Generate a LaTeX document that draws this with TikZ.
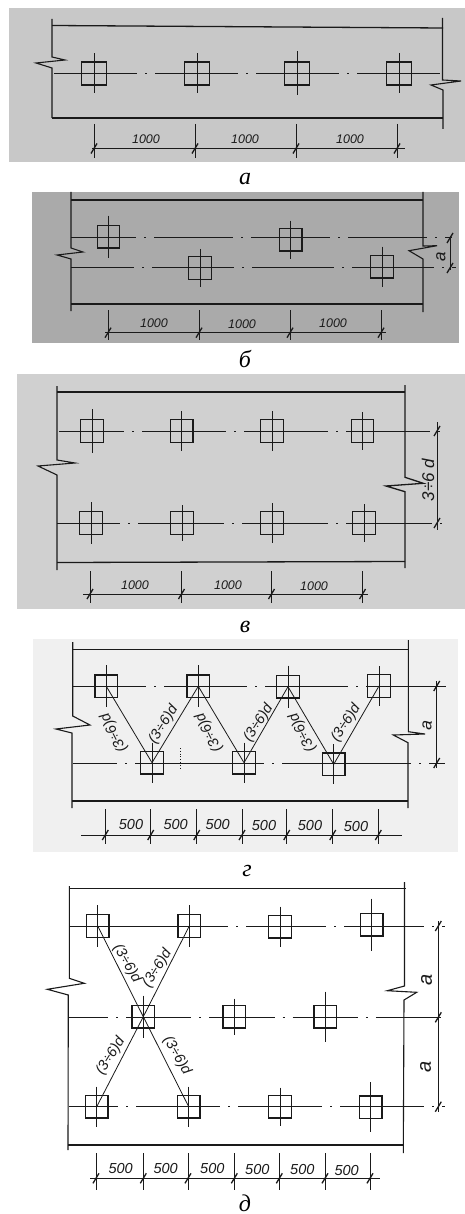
\documentclass[tikz,border=0pt]{standalone}
\usepackage{fontspec}
\setmainfont{Liberation Serif}
\newfontfamily\handfont{Liberation Sans}
\definecolor{ink}{HTML}{1A1A1A}
\definecolor{bga}{HTML}{C8C8C8}
\definecolor{bgb}{HTML}{AAAAAA}
\definecolor{bgc}{HTML}{D0D0D0}
\definecolor{bgd}{HTML}{F0F0F0}
\tikzset{
  plate/.style={draw=ink,line width=1.1pt},
  edgeline/.style={draw=ink,line width=1.3pt},
  axisline/.style={draw=ink,line width=.9pt},
  thinline/.style={draw=ink,line width=.8pt},
  tickline/.style={draw=ink,line width=1.3pt},
  pile/.style={draw=ink,line width=1.4pt,rectangle,minimum size=22.5pt,inner sep=0pt,fill=none},
  hand/.style={font=\handfont\itshape\fontsize{12.5}{14}\selectfont,text=ink,inner sep=0pt},
  handb/.style={font=\handfont\itshape\fontsize{14.5}{16}\selectfont,text=ink,inner sep=0pt},
  handc/.style={font=\handfont\itshape\fontsize{17}{19}\selectfont,text=ink,inner sep=0pt},
  handd/.style={font=\handfont\itshape\fontsize{20}{22}\selectfont,text=ink,inner sep=0pt},
  caption/.style={font=\itshape\fontsize{24}{26}\selectfont,text=black,inner sep=0pt},
}
% centre line with dot-gaps: y, x0, x1, first dot x, period
\newcommand\cenl[5]{%
  \pgfmathsetmacro\clL{#5-18}%
  \pgfmathsetmacro\clP{mod(#5-9-(#4-#2)+10*#5,#5)}%
  \draw[axisline,dash pattern=on \clL pt off 8pt on 2pt off 8pt,dash phase=\clP pt] (#2,#1)--(#3,#1);}
% pile: name, x, y, half-length of the cross
\newcommand\pilenode[4]{%
  \draw[axisline] (#2,#3-#4)--(#2,#3+#4);
  \node[pile] (#1) at (#2,#3) {};}
% horizontal dimension: y, x0, x1, ext top, ext bottom, list
\newcommand\dimh[6]{%
  \draw[thinline] (#2,#1)--(#3,#1);
  \foreach \dx in {#6}{%
    \draw[thinline] (\dx,#4)--(\dx,#5);
    \draw[tickline] (\dx-3,#1+5)--(\dx+3,#1-5);}}
% vertical dimension: x, y0, y1, list
\newcommand\dimv[4]{%
  \draw[thinline] (#1,#2)--(#1,#3);
  \foreach \dy in {#4}{\draw[tickline] (#1-3,\dy+5)--(#1+3,\dy-5);}}
\begin{document}
\begin{tikzpicture}[x=1pt,y=-1pt]
\useasboundingbox (0,0) rectangle (465,1214);
\fill[white] (0,0) rectangle (465,1214);
% ---------- a
\fill[bga] (9,8) rectangle (465,162);
\draw[edgeline] (52,25.5)--(443,28);
\draw[edgeline] (52,118)--(443,118);
\draw[plate] (52,19)--(52,57)--(65,60)--(36,63)--(52,68)--(52,118);
\draw[plate] (442.5,18)--(442.5,80)--(461,81)--(431,85)--(443,90)--(443,129);
\cenl{73.5}{52}{443}{146}{101}
\begin{scope}[pile/.append style={minimum width=25pt,minimum height=23pt}]
\pilenode{a1}{94}{73.5}{20}
\pilenode{a2}{197}{73.5}{20}
\pilenode{a3}{297}{73.5}{22}
\pilenode{a4}{399}{73.5}{20}
\end{scope}
\dimh{148.5}{92}{405}{124}{158}{94,195,296,397}
\node[hand] (la1) at (146,139) {1000};
\node[hand] (la2) at (245,139) {1000};
\node[hand] (la3) at (350,139) {1000};
\node[caption] (ca) at (245,179) {а};
% ---------- b
\fill[bgb] (32,192) rectangle (459,343);
\draw[edgeline] (71,200)--(423,200);
\draw[edgeline] (71,304)--(423,304);
\draw[plate] (71,192)--(71,248)--(83,252)--(57,255)--(71,259)--(71,311);
\draw[plate] (423,192)--(423,246)--(437,245.7)--(409,250.7)--(423,259)--(423,312);
\cenl{237.7}{71}{452}{145}{97}
\cenl{267.7}{71}{456}{143}{100}
\pilenode{b1}{108.5}{236.7}{21}
\pilenode{b2}{200}{268}{19}
\pilenode{b3}{290.7}{239.7}{19}
\pilenode{b4}{382}{266.7}{20}
\dimh{332.7}{105}{386}{310}{340}{108,199,290,381}
\dimv{450}{236}{270}{238,268}
\node[hand] (lb1) at (154,323) {1000};
\node[hand] (lb2) at (242,324) {1000};
\node[hand] (lb3) at (333,323) {1000};
\node[handc,rotate=90] (lb4) at (441,256.5) {a};
\node[caption] (cb) at (245,359) {б};
% ---------- v
\fill[bgc] (17,374) rectangle (465,609);
\draw[edgeline] (57,392)--(405,392);
\draw[edgeline] (57,562.5)--(405,561.5);
\draw[plate] (57,386)--(57,460)--(75,463)--(38,466)--(57,475)--(57,570);
\draw[edgeline] (405,385)--(405,477.3)--(423.3,483.3)--(386,486)--(405,491.7)--(405,568);
\cenl{431}{59}{443}{133}{102}
\cenl{523}{57}{443}{129}{104}
\pilenode{v1}{92}{431}{22}
\pilenode{v2}{181.7}{431}{20}
\pilenode{v3}{272}{431}{20}
\pilenode{v4}{362.5}{431}{19}
\pilenode{v5}{91}{523}{21}
\pilenode{v6}{182}{523}{18}
\pilenode{v7}{272}{523}{20}
\pilenode{v8}{364}{523}{19}
\dimh{594}{83}{368}{571}{603}{90,181.5,271.5,362.5}
\dimv{437}{422}{530}{431,523}
\node[hand] (lv1) at (135,585) {1000};
\node[hand] (lv2) at (228,585) {1000};
\node[hand] (lv3) at (314,586) {1000};
\node[handc,rotate=90] (lv4) at (428,480) {3÷6 d};
\node[caption] (cv) at (245,627) {в};
% ---------- g
\fill[bgd] (33,639) rectangle (458,852);
\draw[edgeline] (73,649.3)--(408,649.3);
\draw[edgeline] (72,801)--(408,801);
\draw[plate] (72.7,642)--(72.7,716)--(90,725)--(56,729)--(72,733)--(72,808);
\draw[plate] (408.3,640)--(408.3,731.7)--(425,734)--(393.3,735)--(408,742.7)--(408,808);
\cenl{686}{73}{446}{155}{101}
\cenl{763}{73}{445}{126}{147}
\draw[thinline,dotted] (180,748)--(180,768);
\pilenode{g1}{106.3}{686.3}{21}
\pilenode{g2}{198.3}{686.3}{21}
\pilenode{g3}{288}{686.7}{21}
\pilenode{g4}{379}{686}{20}
\pilenode{g5}{152}{762.7}{20}
\pilenode{g6}{244}{762.7}{20}
\pilenode{g7}{333.7}{764.3}{20}
\draw[thinline] (g1.center)--(g5.center)--(g2.center)--(g6.center)--(g3.center)--(g7.center)--(g4.center);
\dimh{835}{81}{402}{809}{844}{105.3,150.7,196.7,242,286.7,332.7,378.3}
\dimv{436.7}{681}{768}{686,763}
\node[handb] (lg1) at (131,824.3) {500};
\node[handb] (lg2) at (175.7,825) {500};
\node[handb] (lg3) at (217.7,825) {500};
\node[handb] (lg4) at (264,825.7) {500};
\node[handb] (lg5) at (310,825.7) {500};
\node[handb] (lg6) at (356,826) {500};
\node[handc,rotate=85] (lg7) at (427,725) {a};
\node[handb,rotate=117] (dg1) at (114,732.7) {(3÷6)d};
\node[handb,rotate=57] (dg2) at (163.5,724.5) {(3÷6)d};
\node[handb,rotate=117] (dg3) at (209,732.3) {(3÷6)d};
\node[handb,rotate=57] (dg4) at (258.5,723) {(3÷6)d};
\node[handb,rotate=117] (dg5) at (302.5,732.3) {(3÷6)d};
\node[handb,rotate=57] (dg6) at (346,723) {(3÷6)d};
\node[caption] (cg) at (247,871) {г};
% ---------- d
\draw[edgeline] (69,888.3)--(406,888.3);
\draw[edgeline] (68,1145)--(403,1145);
\draw[plate] (69.3,886)--(69.3,978.3)--(84.3,983.3)--(47.3,989.3)--(68.3,995)--(68,1150);
\draw[plate] (404.5,882)--(404.5,986)--(387.3,990.7)--(416.7,992.3)--(404,1000)--(403.3,1153);
\draw[axisline] (69,926)--(200,926);
\cenl{926}{200}{445}{237}{98}
\cenl{1017.3}{69}{446}{117}{83.3}
\cenl{1106.7}{69}{445}{127}{102}
\pilenode{d1}{97.7}{926}{21}
\pilenode{d2}{189.3}{926}{21}
\pilenode{d3}{280}{926.7}{20}
\pilenode{d4}{371.7}{924.7}{26}
\pilenode{d5}{143.3}{1016.7}{21}
\pilenode{d6}{234.3}{1016.7}{18}
\pilenode{d7}{325.3}{1016.7}{25}
\pilenode{d8}{96.7}{1106.7}{20}
\pilenode{d9}{188.7}{1106.7}{20}
\pilenode{d10}{280}{1106.7}{19}
\pilenode{d11}{370.7}{1107.3}{25}
\draw[thinline] (d1.center)--(d5.center)--(d9.center);
\draw[thinline] (d2.center)--(d5.center)--(d8.center);
\dimh{1178.3}{90}{380}{1153}{1190}{96,143.3,188,234.3,279.3,325,370}
\dimv{438.3}{921}{1112}{926,1017.3,1106.7}
\node[handb] (ld1) at (120.7,1168.7) {500};
\node[handb] (ld2) at (165.7,1168.3) {500};
\node[handb] (ld3) at (212.3,1168.7) {500};
\node[handb] (ld4) at (257.3,1169.3) {500};
\node[handb] (ld5) at (302.3,1169.3) {500};
\node[handb] (ld6) at (346.7,1170.7) {500};
\node[handd,rotate=90] (ld7) at (426.7,980) {a};
\node[handd,rotate=90] (ld8) at (425.7,1067.3) {a};
\node[handb,rotate=-60] (dd1) at (127,963.3) {(3÷6)d};
\node[handb,rotate=58] (dd2) at (157.5,968.3) {(3÷6)d};
\node[handb,rotate=58] (dd3) at (110.7,1056) {(3÷6)d};
\node[handb,rotate=-60] (dd4) at (177,1055.7) {(3÷6)d};
\node[caption] (cd) at (245,1203) {д};
\end{tikzpicture}
\end{document}
